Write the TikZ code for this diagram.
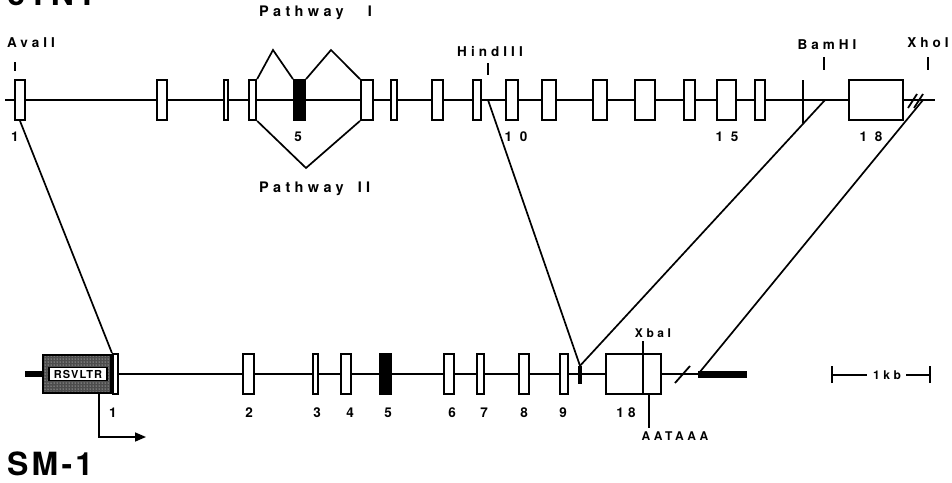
\documentclass[tikz,border=0pt]{standalone}
\usepackage{fontspec}
\setmainfont{TeX Gyre Heros}
\newfontfamily\labfont[LetterSpace=30]{TeX Gyre Heros}
\newfontfamily\headfont[LetterSpace=10]{TeX Gyre Heros}
\usetikzlibrary{patterns,arrows.meta}

\begin{document}
\begin{tikzpicture}[x=1pt,y=-1pt,
  exon/.style={draw, fill=white, line width=1.9pt, inner sep=0pt, minimum height=40pt},
  ex/.style={exon, minimum width=#1},
  blk/.style={exon, fill=black, minimum width=#1},
  gene/.style={line width=2pt},
  link/.style={line width=1.7pt},
  tick/.style={line width=1.8pt},
  lab/.style={font=\labfont\bfseries\fontsize{13.5}{15}\selectfont, inner sep=0pt},
  small/.style={font=\labfont\bfseries\fontsize{12}{13}\selectfont, inner sep=0pt},
  path lab/.style={lab, anchor=west, font=\labfont\bfseries\fontsize{14.5}{17}\selectfont},
  head/.style={font=\headfont\bfseries\fontsize{32}{34}\selectfont, inner sep=0pt, anchor=base west}]

\useasboundingbox (0,0) rectangle (952,482);
\clip (0,0) rectangle (952,482);

% ---------------- genomic cTNT gene ----------------
\node[head] (gtitle) at (7,5) {cTNT};

\coordinate (tl) at (5,100);
\coordinate (tr) at (935,100);
\draw[gene] (tl) -- (tr);

\node[ex=10.2pt] (t1)  at (20,100) {};
\node[ex=10.2pt] (t2)  at (162,100) {};
\node[ex=4.4pt]  (t3)  at (226,100) {};
\node[ex=7.4pt]  (t4)  at (252.5,100) {};
\node[blk=11.2pt] (t5) at (299.5,100) {};
\node[ex=12.2pt] (t6)  at (367,100) {};
\node[ex=6.4pt]  (t7)  at (394,100) {};
\node[ex=11.2pt] (t8)  at (437.5,100) {};
\node[ex=8.4pt]  (t9)  at (477,100) {};
\node[ex=12.2pt] (t10) at (512,100) {};
\node[ex=14.2pt] (t11) at (549,100) {};
\node[ex=14.2pt] (t12) at (600,100) {};
\node[ex=20.2pt] (t13) at (645,100) {};
\node[ex=11.2pt] (t14) at (689.5,100) {};
\node[ex=19.2pt] (t15) at (726.5,100) {};
\node[ex=10.2pt] (t16) at (760,100) {};
\node[fill=black, inner sep=0pt, minimum width=2.2pt, minimum height=43pt] (t17) at (803,101) {};
\node[ex=54.2pt] (t18) at (876,100) {};

% break marks near the 3' end
\coordinate (bk1a) at (908,108); \coordinate (bk1b) at (917,94);
\coordinate (bk2a) at (914,108); \coordinate (bk2b) at (923,94);
\draw[tick] (bk1a) -- (bk1b);
\draw[tick] (bk2a) -- (bk2b);

% exon numbers
\node[lab] at (15,137) {1};
\node[lab] at (298,137) {5};
\node[lab] at (516,137) {1 0};
\node[lab] at (727,137) {1 5};
\node[lab] at (871,137) {1 8};

% restriction sites
\node[lab] (ava) at (31,43) {AvaII};
\coordinate (avaA) at (15,62); \coordinate (avaB) at (15,71);
\draw[tick] (avaA) -- (avaB);
\node[lab] (hind) at (490,52) {HindIII};
\coordinate (hindA) at (488,63); \coordinate (hindB) at (488,75);
\draw[tick] (hindA) -- (hindB);
\node[lab] (bam) at (827,45) {BamHI};
\coordinate (bamA) at (824,57); \coordinate (bamB) at (824,70);
\draw[tick] (bamA) -- (bamB);
\node[lab] (xho) at (928,43) {XhoI};
\coordinate (xhoA) at (928,57); \coordinate (xhoB) at (928,70);
\draw[tick] (xhoA) -- (xhoB);

% alternative splicing pathways
\coordinate (p1a) at (273,50);
\coordinate (p1b) at (331,50);
\coordinate (p2)  at (306,168);
\draw[link] (t4.north east) -- (p1a) -- (t5.north west);
\draw[link] (t5.north east) -- (p1b) -- (t6.north west);
\draw[link] (t4.south east) -- (p2) -- (t6.south west);
\node[path lab] at (259,13) {Pathway\hspace{24pt}I};
\node[path lab] at (259,189) {Pathway\hspace{14pt}II};

% ---------------- SM-1 minigene ----------------
\node[head] (mtitle) at (7,475) {SM-1};

\node[fill=black, inner sep=0pt, minimum width=17pt, minimum height=6pt] (stub) at (33.5,374) {};
\node[draw, line width=2.4pt, preaction={fill=black!70}, pattern=dots, pattern color=white,
      inner sep=0pt, minimum width=67.6pt, minimum height=37.6pt] (rsv) at (77,374) {};
\node[draw, line width=1.2pt, fill=white, inner sep=0pt, minimum width=58pt, minimum height=13pt,
      font=\headfont\bfseries\fontsize{11}{12}\selectfont] (ltr) at (78,374) {RSVLTR};

\node[ex=5.2pt]  (b1)  at (115.5,374) {};
\draw[gene] (b1.east) -- (b1.east -| 698,0);

\node[ex=11.2pt] (b2)  at (248.5,374) {};
\node[ex=5.2pt]  (b3)  at (315.5,374) {};
\node[ex=10.2pt] (b4)  at (346,374) {};
\node[blk=11.2pt] (b5) at (385.5,374) {};
\node[ex=10.2pt] (b6)  at (449,374) {};
\node[ex=7.2pt]  (b7)  at (480.5,374) {};
\node[ex=10.2pt] (b8)  at (524,374) {};
\node[ex=8.2pt]  (b9)  at (564,374) {};
\node[fill=black, inner sep=0pt, minimum width=4pt, minimum height=18pt] (b17) at (580,375) {};
\node[ex=55.2pt] (b18) at (633.5,374) {};

% XbaI site and polyadenylation signal
\node[small] (xba) at (653,333) {XbaI};
\coordinate (xbaA) at (643,341);
\draw[tick] (xbaA) -- (xbaA |- b18.south);
\coordinate (paA) at (649,395);
\coordinate (paB) at (649,428);
\draw[link] (paA) -- (paB);
\node[small] (pa) at (675,436) {AATAAA};

% 3' flanking region
\coordinate (slA) at (675,383); \coordinate (slB) at (690,366);
\draw[tick] (slA) -- (slB);
\node[fill=black, inner sep=0pt, minimum width=49pt, minimum height=7pt] (tail) at (722.5,374.5) {};

% transcription start arrow
\coordinate (tss) at (146,437);
\draw[line width=1.6pt, -{Triangle[length=11pt,width=9pt]}] ([xshift=22pt]rsv.south) |- (tss);

% exon numbers
\node[lab] at (113,413) {1};
\node[lab] at (249,413) {2};
\node[lab] at (317,413) {3};
\node[lab] at (350,413) {4};
\node[lab] at (388,413) {5};
\node[lab] at (452,413) {6};
\node[lab] at (484,413) {7};
\node[lab] at (524,413) {8};
\node[lab] at (563,413) {9};
\node[lab] at (626,413) {18};

% scale bar
\node[small] (kb) at (887,375) {1kb};
\coordinate (sbl) at (832,375); \coordinate (sbr) at (930,375);
\draw[tick] (sbl) -- ([xshift=-6pt]kb.west);
\draw[tick] ([xshift=5pt]kb.east) -- (sbr);
\draw[tick] ([yshift=-8pt]sbl) -- ([yshift=9pt]sbl);
\draw[tick] ([yshift=-8pt]sbr) -- ([yshift=9pt]sbr);

% ---------------- correspondence between the two maps ----------------
\coordinate (hindsite) at (488,100);
\coordinate (bamsite) at (825,100);
\coordinate (xhosite) at (923,100);
\draw[link] (t1.south) -- (b1.north west);
\draw[link] (hindsite) -- (b17.north);
\draw[link] (bamsite) -- (b17.north);
\draw[link] (xhosite) -- (tail.west);

\end{tikzpicture}
\end{document}
